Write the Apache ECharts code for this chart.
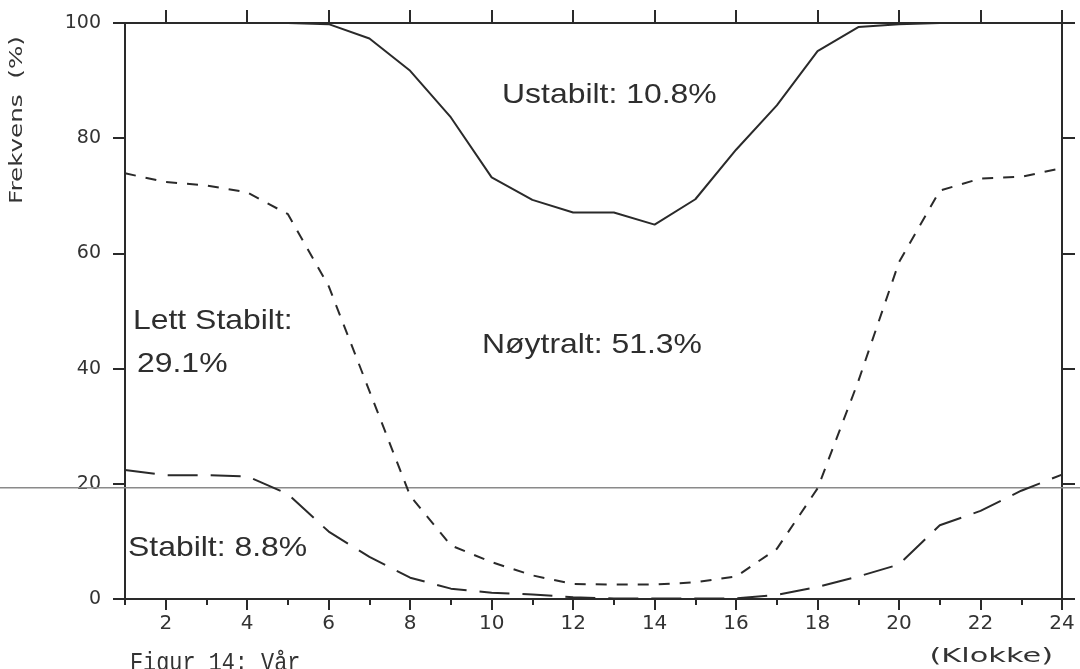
<!DOCTYPE html>
<html>
<head>
<meta charset="utf-8">
<script src="https://cdn.jsdelivr.net/npm/echarts@6.0.0/dist/echarts.min.js"></script>
<style>
  html, body { margin: 0; padding: 0; background: #ffffff; }
  #chart { width: 1080px; height: 669px; }
</style>
</head>
<body>
<div id="chart"></div>
<script>
// ---- data ----
const hours = [1,2,3,4,5,6,7,8,9,10,11,12,13,14,15,16,17,18,19,20,21,22,23,24];
const ustabiltBoundary = [100,100,100,100,100,99.8,97.3,91.7,83.6,73.2,69.3,67.1,67.1,65.0,69.4,78.0,85.7,95.1,99.3,99.8,100,100,100,100];
const lettStabiltBoundary = [73.9,72.4,71.8,70.6,66.8,54.3,36.1,17.9,9.3,6.4,4.1,2.6,2.5,2.5,2.9,3.9,8.7,19.2,37.8,58.5,70.9,73.0,73.3,74.8];
const stabiltBoundary = [22.4,21.5,21.5,21.3,18.2,11.7,7.3,3.7,1.8,1.1,0.8,0.3,0.1,0.1,0.1,0.1,0.7,2.1,3.9,6.0,12.8,15.3,18.8,21.6];
const xLabelTicks = [2,4,6,8,10,12,14,16,18,20,22,24];
const xMinorTicks = [1,3,5,7,9,11,13,15,17,19,21,23];
const yTicks = [0,20,40,60,80,100];
const annotations = ['Ustabilt: 10.8%', 'Nøytralt: 51.3%', 'Lett Stabilt:', '29.1%', 'Stabilt: 8.8%'];
const yAxisName = 'Frekvens  (%)';
const xAxisName = '(Klokke)';
const figureCaption = 'Figur 14: Vår';
const scanLineValue = 19.3;

// ---- chart ----
const INK = '#2a2a2a';
const chart = echarts.init(document.getElementById('chart'), null, { renderer: 'canvas' });

function pairs(vals) { return hours.map((h, i) => [h, vals[i]]); }

const axisFont = { fontFamily: 'DejaVu Sans', color: '#333' };

chart.setOption({
  animation: false,
  backgroundColor: '#ffffff',
  grid: { left: 125, right: 18, top: 23, bottom: 70, containLabel: false },
  xAxis: [
    {
      type: 'value', position: 'bottom', min: 1, max: 24, interval: 1,
      axisLine: { show: true, lineStyle: { color: INK, width: 2 } },
      axisTick: { show: true, inside: false, length: 6, customValues: xMinorTicks, lineStyle: { color: INK, width: 2 } },
      axisLabel: { show: true, customValues: xLabelTicks, margin: 15, fontSize: 20, ...axisFont },
      splitLine: { show: false }
    },
    {
      type: 'value', position: 'bottom', min: 1, max: 24, interval: 1,
      axisLine: { show: false },
      axisTick: { show: true, inside: false, length: 11, customValues: xLabelTicks, lineStyle: { color: INK, width: 2 } },
      axisLabel: { show: false },
      splitLine: { show: false }
    },
    {
      type: 'value', position: 'top', min: 1, max: 24, interval: 1,
      axisLine: { show: true, lineStyle: { color: INK, width: 2 } },
      axisTick: { show: true, inside: false, length: 13, customValues: xLabelTicks, lineStyle: { color: INK, width: 2 } },
      axisLabel: { show: false },
      splitLine: { show: false }
    }
  ],
  yAxis: [
    {
      type: 'value', position: 'left', min: 0, max: 100, interval: 20,
      axisLine: { show: true, lineStyle: { color: INK, width: 2 } },
      axisTick: { show: true, inside: false, length: 12, lineStyle: { color: INK, width: 2 } },
      axisLabel: { show: true, margin: 24, fontSize: 19, ...axisFont },
      splitLine: { show: false }
    },
    {
      type: 'value', position: 'right', min: 0, max: 100, interval: 20,
      axisLine: { show: true, lineStyle: { color: INK, width: 2 } },
      axisTick: { show: true, inside: false, length: 13, lineStyle: { color: INK, width: 2 } },
      axisLabel: { show: false },
      splitLine: { show: false }
    }
  ],
  series: [
    {
      name: 'Ustabilt', type: 'line', xAxisIndex: 0, yAxisIndex: 0,
      data: pairs(ustabiltBoundary), showSymbol: false, symbol: 'none',
      lineStyle: { color: INK, width: 2, type: 'solid' }, z: 3
    },
    {
      name: 'Lett Stabilt', type: 'line', xAxisIndex: 0, yAxisIndex: 0,
      data: pairs(lettStabiltBoundary), showSymbol: false, symbol: 'none',
      lineStyle: { color: INK, width: 2, type: [11, 10] }, z: 3
    },
    {
      name: 'Stabilt', type: 'line', xAxisIndex: 0, yAxisIndex: 0,
      data: pairs(stabiltBoundary), showSymbol: false, symbol: 'none',
      lineStyle: { color: INK, width: 2, type: [30, 13] }, z: 3
    }
  ]
});

const scanY = chart.convertToPixel({ yAxisIndex: 0 }, scanLineValue);
const annFont = '28px "Liberation Sans"';
function ann(text, x, y) {
  return {
    type: 'text', x: x, y: y, scaleX: 1.14, z: 10,
    style: { text: text, font: annFont, fill: '#2e2e2e', textAlign: 'left', textVerticalAlign: 'middle' }
  };
}

chart.setOption({
  graphic: [
    {
      type: 'line', z: 1, silent: true,
      shape: { x1: 0, y1: scanY, x2: 1080, y2: scanY },
      style: { stroke: '#8a8a8a', lineWidth: 1.5 }
    },
    ann(annotations[0], 502, 95.5),
    ann(annotations[1], 482, 345.5),
    ann(annotations[2], 133, 321.5),
    ann(annotations[3], 137, 364.5),
    ann(annotations[4], 128, 548.5),
    {
      type: 'text', x: 18, y: 120, rotation: Math.PI / 2, scaleX: 1.45, z: 10,
      style: { text: yAxisName, font: '17px "DejaVu Sans"', fill: '#333', textAlign: 'center', textVerticalAlign: 'middle' }
    },
    {
      type: 'text', x: 1053, y: 657, scaleX: 1.6, z: 10,
      style: { text: xAxisName, font: '19px "DejaVu Sans"', fill: '#333', textAlign: 'right', textVerticalAlign: 'middle' }
    },
    {
      type: 'text', x: 130, y: 663, scaleX: 0.84, z: 10,
      style: { text: figureCaption, font: '26px "Liberation Mono"', fill: '#333', textAlign: 'left', textVerticalAlign: 'middle' }
    }
  ]
});
</script>
</body>
</html>
